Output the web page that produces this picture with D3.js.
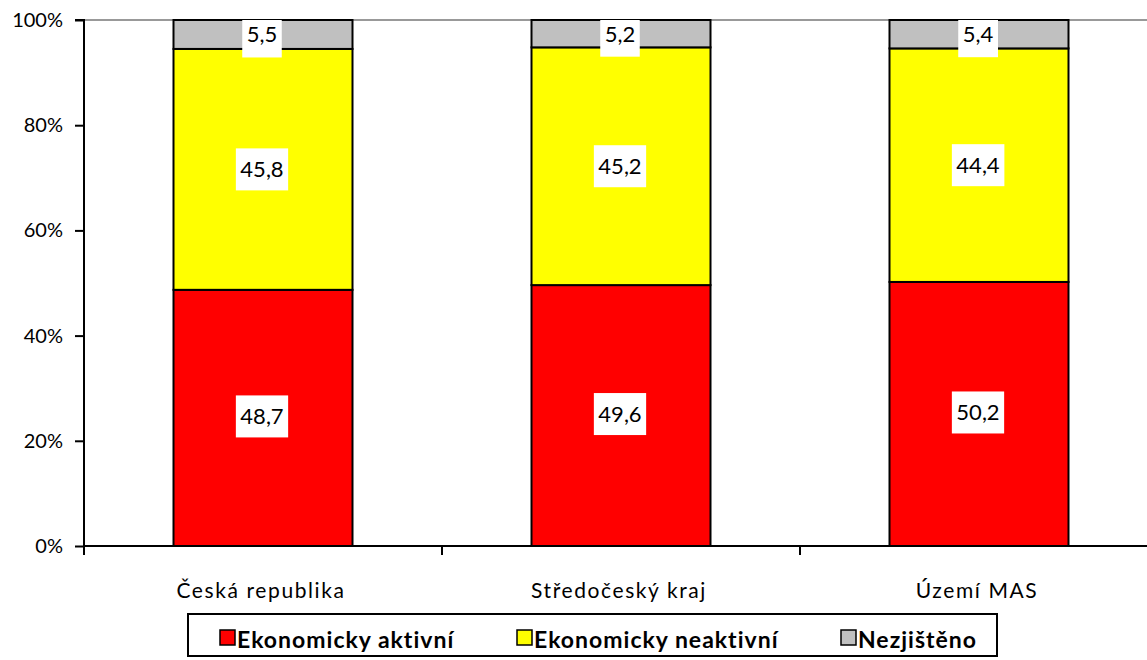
<!DOCTYPE html>
<html>
<head>
<meta charset="utf-8">
<script src="https://cdn.jsdelivr.net/npm/d3@7"></script>
<style>
  body { margin: 0; background: #fff; }
  svg { display: block; font-family: Lato, "Open Sans", sans-serif; }
</style>
</head>
<body>
<svg id="chart" width="1147" height="660"></svg>
<script>
const categories = ["Česká republika", "Středočeský kraj", "Území MAS"];
const seriesNames = ["Ekonomicky aktivní", "Ekonomicky neaktivní", "Nezjištěno"];
const seriesColors = ["#ff0000", "#ffff00", "#c0c0c0"];
const aktivni = [48.7, 49.6, 50.2];
const neaktivni = [45.8, 45.2, 44.4];
const nezjisteno = [5.5, 5.2, 5.4];
const yTicks = [0, 20, 40, 60, 80, 100];

const svg = d3.select("#chart");
const m = { left: 84, right: 1147, top: 20, bottom: 546 };

const rows = categories.map((c, i) => ({ cat: c, s0: aktivni[i], s1: neaktivni[i], s2: nezjisteno[i] }));
const stack = d3.stack().keys(["s0", "s1", "s2"]);
const series = stack(rows);

const bandW = 358;
const x = d3.scaleBand().domain(categories).range([m.left, m.left + bandW * 3]).padding(0);
const barW = 179;
const y = d3.scaleLinear().domain([0, 100]).range([m.bottom, m.top]);

svg.append("defs").append("clipPath").attr("id", "plotclip")
  .append("rect").attr("x", m.left).attr("y", m.top).attr("width", m.right - m.left).attr("height", m.bottom - m.top);

// top gridline
svg.append("line").attr("x1", m.left).attr("x2", m.right).attr("y1", y(100)).attr("y2", y(100))
  .attr("stroke", "#999").attr("stroke-width", 2);

// bars
const g = svg.append("g");
series.forEach((s, si) => {
  g.selectAll(null).data(s).enter().append("rect")
    .attr("x", (d, i) => x(categories[i]) + (bandW - barW) / 2)
    .attr("y", d => y(d[1]))
    .attr("width", barW)
    .attr("height", d => y(d[0]) - y(d[1]))
    .attr("fill", seriesColors[si])
    .attr("stroke", "#000").attr("stroke-width", 2);
});

// labels
const lg = svg.append("g").attr("clip-path", "url(#plotclip)");
series.forEach((s, si) => {
  s.forEach((d, i) => {
    const v = d[1] - d[0];
    const txt = d3.format(".1f")(v).replace(".", ",");
    const cx = x(categories[i]) + bandW / 2 - 1;
    const cy = (y(d[0]) + y(d[1])) / 2 - (si === 0 ? 1.5 : 0);
    const t = lg.append("text").attr("x", cx).attr("y", cy).attr("dy", "0.36em")
      .attr("text-anchor", "middle").attr("font-size", 22).attr("fill", "#000").text(txt);
    const bb = t.node().getBBox();
    lg.insert("rect", "text").attr("x", bb.x - 4.5).attr("y", cy - 21 + (si === 2 ? 2 : 0))
      .attr("width", bb.width + 9).attr("height", 42).attr("fill", "#fff");
  });
});
lg.selectAll("text").raise();

// y axis
const ya = svg.append("g").attr("transform", `translate(${m.left},0)`)
  .call(d3.axisLeft(y).tickValues(yTicks).tickSize(9).tickPadding(12).tickFormat(d => d + "%"));
ya.select(".domain").attr("stroke", "#000").attr("stroke-width", 2).attr("d", `M-9,${m.top}H0V${m.bottom}`);
ya.selectAll(".tick line").attr("stroke", "#000").attr("stroke-width", 2);
ya.selectAll(".tick text").attr("font-size", 20).attr("font-family", "Lato, sans-serif").attr("fill", "#000");

// x axis
const xa = svg.append("g").attr("transform", `translate(0,${m.bottom})`);
xa.append("line").attr("x1", m.left).attr("x2", m.right).attr("y1", 0).attr("y2", 0)
  .attr("stroke", "#000").attr("stroke-width", 2);
const bounds = [0, 1, 2].map(i => x(categories[i]));
xa.selectAll(".xt").data(bounds).enter().append("line")
  .attr("x1", d => d).attr("x2", d => d).attr("y1", 0).attr("y2", 9)
  .attr("stroke", "#000").attr("stroke-width", 2);
xa.selectAll(".xl").data(categories).enter().append("text")
  .attr("x", d => x(d) + bandW / 2 - 2).attr("y", 52)
  .attr("text-anchor", "middle").attr("font-size", 21).attr("letter-spacing", "1.6px")
  .attr("fill", "#000").text(d => d);

// legend
const leg = svg.append("g");
leg.append("rect").attr("x", 188).attr("y", 614).attr("width", 809).attr("height", 42)
  .attr("fill", "#fff").attr("stroke", "#000").attr("stroke-width", 2);
const legX = [220, 517, 841];
seriesNames.forEach((n, i) => {
  leg.append("rect").attr("x", legX[i]).attr("y", 630).attr("width", 15).attr("height", 15)
    .attr("fill", seriesColors[i]).attr("stroke", "#000").attr("stroke-width", 1.5);
  leg.append("text").attr("x", legX[i] + 17).attr("y", 648)
    .attr("font-size", 23).attr("font-weight", "bold").attr("letter-spacing", "1px")
    .attr("fill", "#000").text(n);
});
</script>
</body>
</html>
